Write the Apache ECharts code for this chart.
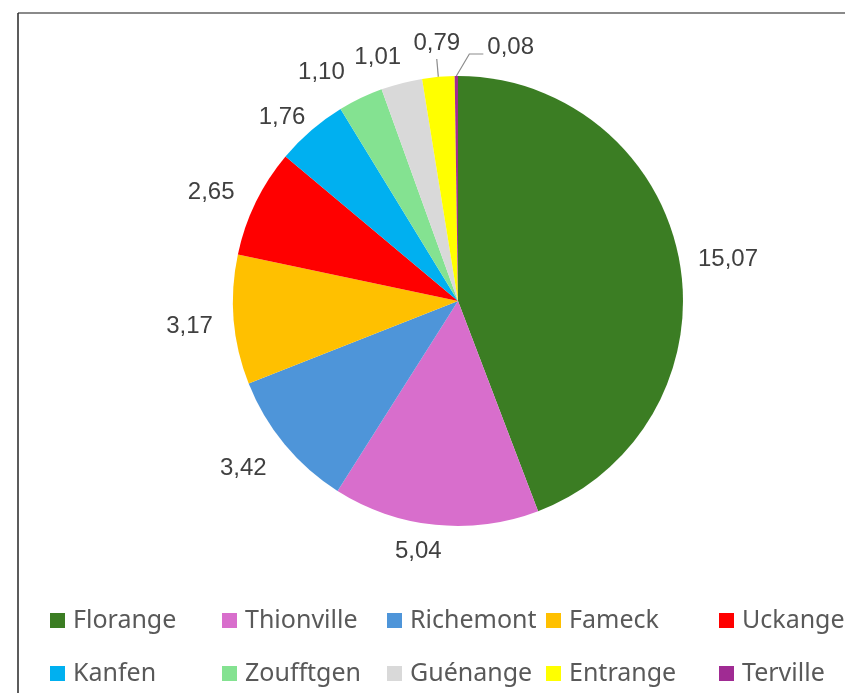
<!DOCTYPE html>
<html>
<head>
<meta charset="utf-8">
<script src="https://cdn.jsdelivr.net/npm/echarts@6/dist/echarts.min.js"></script>
<style>
  html, body { margin: 0; padding: 0; background: #fff; }
  #chart { width: 845px; height: 693px; }
</style>
</head>
<body>
<div id="chart"></div>
<script>
// surfaces par commune (ha)
const communes = ['Florange', 'Thionville', 'Richemont', 'Fameck', 'Uckange',
  'Kanfen', 'Zoufftgen', 'Guénange', 'Entrange', 'Terville'];
const surfaces = [15.07, 5.04, 3.42, 3.17, 2.65, 1.76, 1.10, 1.01, 0.79, 0.08];
const couleurs = ['#3B7D23', '#D86ECC', '#4E95D9', '#FFC000', '#FF0000',
  '#00B0F0', '#84E291', '#D9D9D9', '#FFFF00', '#A02B93'];

// petites parts avec trait de rappel
const avecTrait = ['Entrange', 'Terville'];

// décalages des étiquettes (façon "ajustement optimal" d'Excel)
const decalX = [-4, 13, 1, 2, 0, 11, -3, 9];
const decalY = [2, 9, 13, 5, -2, 0, -10, -8];

// position des entrées de légende (deux lignes)
const legendeX = [50, 222, 387, 546, 719];
const legendeY = [608, 661];

const chart = echarts.init(document.getElementById('chart'));

const pieData = communes.map((nom, i) => ({
  name: nom,
  value: surfaces[i],
  itemStyle: { color: couleurs[i] },
  labelLine: { show: avecTrait.includes(nom), length: 18 }
}));

const legends = communes.map((nom, i) => ({
  data: [nom],
  left: legendeX[i % 5],
  top: legendeY[Math.floor(i / 5)],
  orient: 'horizontal',
  padding: 0,
  itemWidth: 15,
  itemHeight: 15,
  icon: 'rect',
  selectedMode: false,
  textStyle: {
    fontFamily: 'Noto Sans',
    fontSize: 25,
    color: '#595959',
    padding: [0, 0, 0, 3]
  }
}));

function placeLabel(p) {
  const i = p.dataIndex;
  const pts = p.labelLinePoints;
  if (communes[i] === 'Entrange' && pts) {
    // texte centré au-dessus du trait vertical
    return {
      x: pts[1][0], y: pts[1][1] - 4,
      align: 'center', verticalAlign: 'bottom',
      hideOverlap: false,
      labelLinePoints: [pts[0], pts[1]]
    };
  }
  if (communes[i] === 'Terville' && pts) {
    const a = pts[0];
    return {
      x: a[0] + 31, y: a[1] - 29,
      align: 'left', verticalAlign: 'middle',
      hideOverlap: false,
      labelLinePoints: [a, [a[0] + 13, a[1] - 22], [a[0] + 27, a[1] - 22]]
    };
  }
  return { dx: decalX[i] || 0, dy: decalY[i] || 0, hideOverlap: false };
}

chart.setOption({
  animation: false,
  backgroundColor: '#fff',
  legend: legends,
  graphic: [
    { type: 'line', shape: { x1: 18, y1: 13, x2: 845, y2: 13 }, style: { stroke: '#8a8a8a', lineWidth: 2 } },
    { type: 'line', shape: { x1: 18, y1: 13, x2: 18, y2: 693 }, style: { stroke: '#262626', lineWidth: 1.5 } }
  ],
  series: [{
    type: 'pie',
    center: [458, 301],
    radius: 225,
    startAngle: 90,
    clockwise: true,
    avoidLabelOverlap: false,
    itemStyle: { borderWidth: 0 },
    label: {
      show: true,
      position: 'outside',
      fontFamily: 'Liberation Sans',
      fontSize: 24,
      color: '#404040',
      distanceToLabelLine: 5,
      formatter: p => p.value.toFixed(2).replace('.', ',')
    },
    labelLine: {
      length: 20,
      length2: 0,
      lineStyle: { color: '#8c8c8c', width: 1.2 }
    },
    labelLayout: placeLabel,
    emphasis: { disabled: true },
    data: pieData
  }]
});
</script>
</body>
</html>
